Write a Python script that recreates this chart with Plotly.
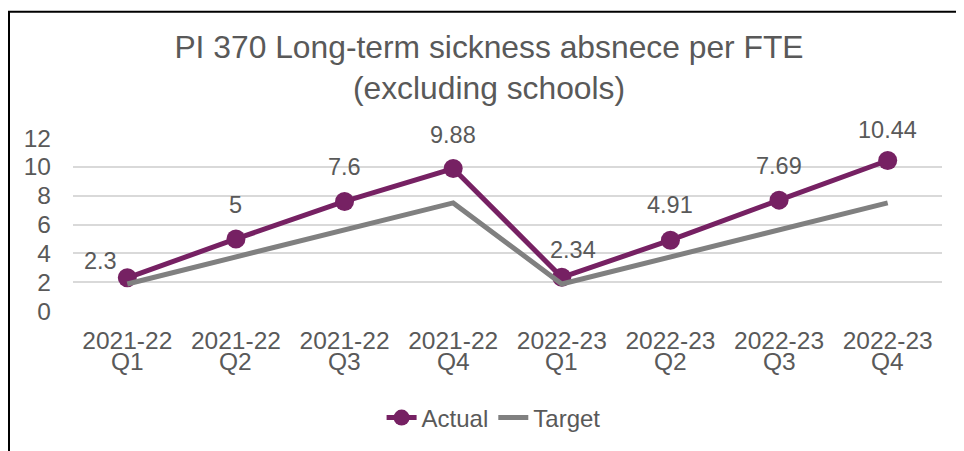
from plotly import graph_objects as go

years = ['2021-22', '2021-22', '2021-22', '2021-22', '2022-23', '2022-23', '2022-23', '2022-23']
quarters = ['Q1', 'Q2', 'Q3', 'Q4', 'Q1', 'Q2', 'Q3', 'Q4']
actual = [2.3, 5, 7.6, 9.88, 2.34, 4.91, 7.69, 10.44]
target = [1.875, 3.75, 5.625, 7.5, 1.875, 3.75, 5.625, 7.5]
y_ticks = [0, 2, 4, 6, 8, 10, 12]

# label nudges (px)
label_dx = [-27, 0, 0, 0, 11, 0, 0, 0]
label_dy = [17, 34, 34, 34, 27, 35, 34, 30]

PURPLE = '#762163'
GREY = '#808080'
TEXT = '#595959'
FONT = 'Liberation Sans, Arial, sans-serif'

# the page body has an 8px margin, so the figure is 8px smaller than the window
W, H = 956, 443


def main():
    cats = [y + ' ' + q for y, q in zip(years, quarters)]

    fig = go.Figure()
    fig.add_trace(go.Scatter(x=cats, y=actual, name='Actual', mode='lines+markers',
                             line=dict(color=PURPLE, width=5),
                             marker=dict(color=PURPLE, size=19)))
    fig.add_trace(go.Scatter(x=cats, y=target, name='Target', mode='lines',
                             line=dict(color=GREY, width=5)))

    for c, v, dx, dy in zip(cats, actual, label_dx, label_dy):
        fig.add_annotation(x=c, y=v, text=str(v), showarrow=False,
                           xshift=dx, yshift=dy, font=dict(size=23.5, color=TEXT))

    # second line of the category labels
    for c, q in zip(cats, quarters):
        fig.add_annotation(x=c, y=0, xref='x', yref='paper', text=q, showarrow=False,
                           yshift=-66, font=dict(size=24.5, color=TEXT))

    # outer frame of the chart box
    fig.add_shape(type='rect', xref='paper', yref='paper',
                  x0=-64 / 869, x1=1.2, y0=-1.5, y1=301 / 174,
                  line=dict(color='black', width=2), layer='above')

    fig.update_layout(
        width=W, height=H,
        margin=dict(l=65, r=22, t=130, b=139),
        paper_bgcolor='white', plot_bgcolor='white',
        font=dict(family=FONT, size=24, color=TEXT),
        title=dict(text='PI 370 Long-term sickness absnece per FTE<br>(excluding schools)',
                   x=481 / W, xanchor='center', xref='container',
                   y=1 - 50 / H, yanchor='top',
                   font=dict(size=31.8, color=TEXT)),
        showlegend=True,
        legend=dict(orientation='h', x=0.484, xanchor='center', y=-106 / 174,
                    yanchor='middle', font=dict(size=24, color=TEXT),
                    traceorder='normal'),
    )
    fig.update_xaxes(type='category', range=[-0.5, 7.5], tickvals=cats, ticktext=years,
                     showgrid=False, showline=False, zeroline=False, ticks='',
                     tickfont=dict(size=24.5, color=TEXT), ticklabelstandoff=12)
    fig.update_yaxes(range=[0, 12], tickvals=y_ticks, showgrid=True, gridcolor='#d9d9d9',
                     gridwidth=1.5, zeroline=False, showline=False, ticks='',
                     tickfont=dict(size=24.5, color=TEXT), ticklabelstandoff=21)

    fig.write_html('out.html')


if __name__ == '__main__':
    main()
